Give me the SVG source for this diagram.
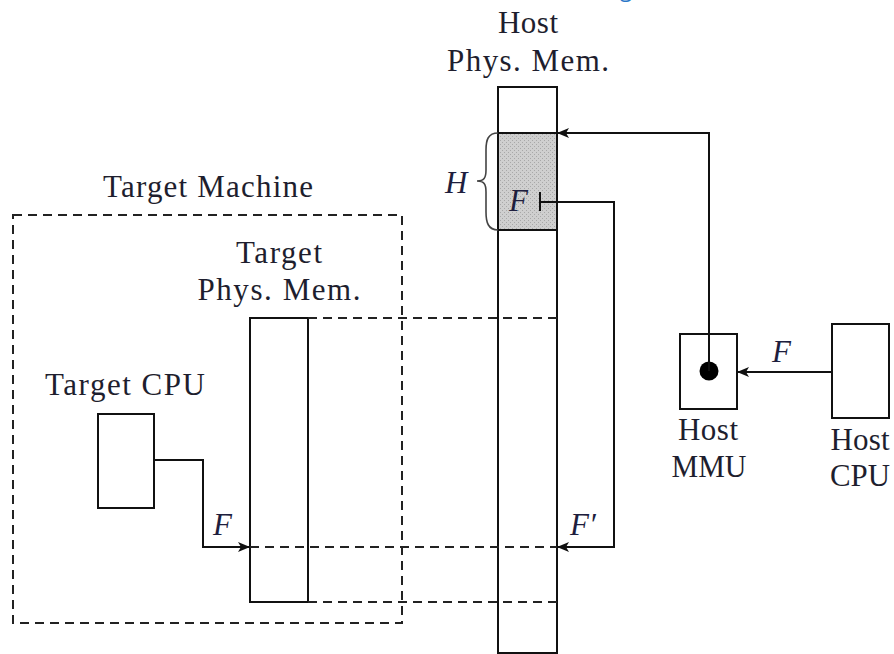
<svg xmlns="http://www.w3.org/2000/svg" width="894" height="654" viewBox="0 0 894 654">
<defs>
<marker id="ah" markerWidth="12" markerHeight="10" refX="11" refY="5" orient="auto" markerUnits="userSpaceOnUse">
<path d="M0,0 L12,5 L0,10 L3,5 Z" fill="#111"/>
</marker>
<pattern id="dots" width="4" height="4" patternUnits="userSpaceOnUse">
<rect width="4" height="4" fill="#cfcfcf"/>
<rect x="0" y="0" width="1" height="1" fill="#a8a8a8"/>
<rect x="2" y="2" width="1" height="1" fill="#a8a8a8"/>
</pattern>
</defs>
<style>
.box{fill:#fff;stroke:#111;stroke-width:2}
.ln{fill:none;stroke:#111;stroke-width:2}
.dash{fill:none;stroke:#222;stroke-width:2;stroke-dasharray:9 6}
.t{font-family:"Liberation Serif","DejaVu Serif",serif;font-size:31px;fill:#1e1e2e;text-anchor:middle}
.it{font-family:"Liberation Serif","DejaVu Serif",serif;font-size:31px;font-style:italic;fill:#1e1e3e}
</style>
<rect width="894" height="654" fill="#fff"/>
<text x="620" y="-3" style="font-family:'Open Sans',sans-serif;font-size:22px;fill:#2a78c8">g</text>

<g id="target-machine">
<rect x="13" y="215" width="389" height="408" class="dash"/>
<text x="208" y="197" class="t" textLength="210" lengthAdjust="spacing">Target Machine</text>
</g>

<g id="host-phys-mem">
<rect x="498" y="87" width="59" height="566" class="box"/>
<rect x="498" y="133" width="59" height="97" fill="url(#dots)" stroke="#111" stroke-width="2"/>
<text x="528" y="33" class="t" textLength="60" lengthAdjust="spacing">Host</text>
<text x="528" y="71" class="t" textLength="162" lengthAdjust="spacing">Phys. Mem.</text>
<text x="509" y="211" class="it">F</text>
<path d="M477,181 C484,181 486,178 486,170 L486,150 C486,140 488,133 498,133 M477,181 C484,181 486,184 486,192 L486,212 C486,222 488,230 498,230" fill="none" stroke="#444" stroke-width="1.6"/>
<text x="445" y="193" class="it">H</text>
</g>

<g id="target-phys-mem">
<rect x="250" y="318" width="58" height="284" class="box"/>
<text x="279" y="263" class="t" textLength="86" lengthAdjust="spacing">Target</text>
<text x="279" y="300" class="t" textLength="163" lengthAdjust="spacing">Phys. Mem.</text>
</g>

<g id="target-cpu">
<rect x="98" y="414" width="56" height="94" class="box"/>
<text x="125" y="395" class="t" textLength="160" lengthAdjust="spacing">Target CPU</text>
</g>

<g id="host-mmu">
<rect x="680" y="334" width="57" height="75" class="box"/>
<circle cx="709" cy="371" r="9.5" fill="#000"/>
<text x="708" y="440" class="t" textLength="60" lengthAdjust="spacing">Host</text>
<text x="709" y="477" class="t" textLength="75" lengthAdjust="spacingAndGlyphs">MMU</text>
</g>

<g id="host-cpu">
<rect x="832" y="324" width="57" height="94" class="box"/>
<text x="860" y="450" class="t" textLength="59" lengthAdjust="spacing">Host</text>
<text x="860" y="486" class="t" textLength="60" lengthAdjust="spacingAndGlyphs">CPU</text>
</g>

<g id="connectors">
<path d="M308,318 L557,318" class="dash"/>
<path d="M250,547 L557,547" class="dash"/>
<path d="M308,602 L557,602" class="dash"/>
<path d="M154,460 L203,460 L203,547 L249,547" class="ln" marker-end="url(#ah)"/>
<text x="213" y="535" class="it">F</text>
<path d="M709,371 L709,133 L558,133" class="ln" marker-end="url(#ah)"/>
<path d="M832,372 L738,372" class="ln" marker-end="url(#ah)"/>
<text x="772" y="362" class="it">F</text>
<path d="M540,192 L540,211 M540,202 L614,202 L614,547 L558,547" class="ln" marker-end="url(#ah)"/>
<text x="570" y="535" class="it">F′</text>
</g>
</svg>
